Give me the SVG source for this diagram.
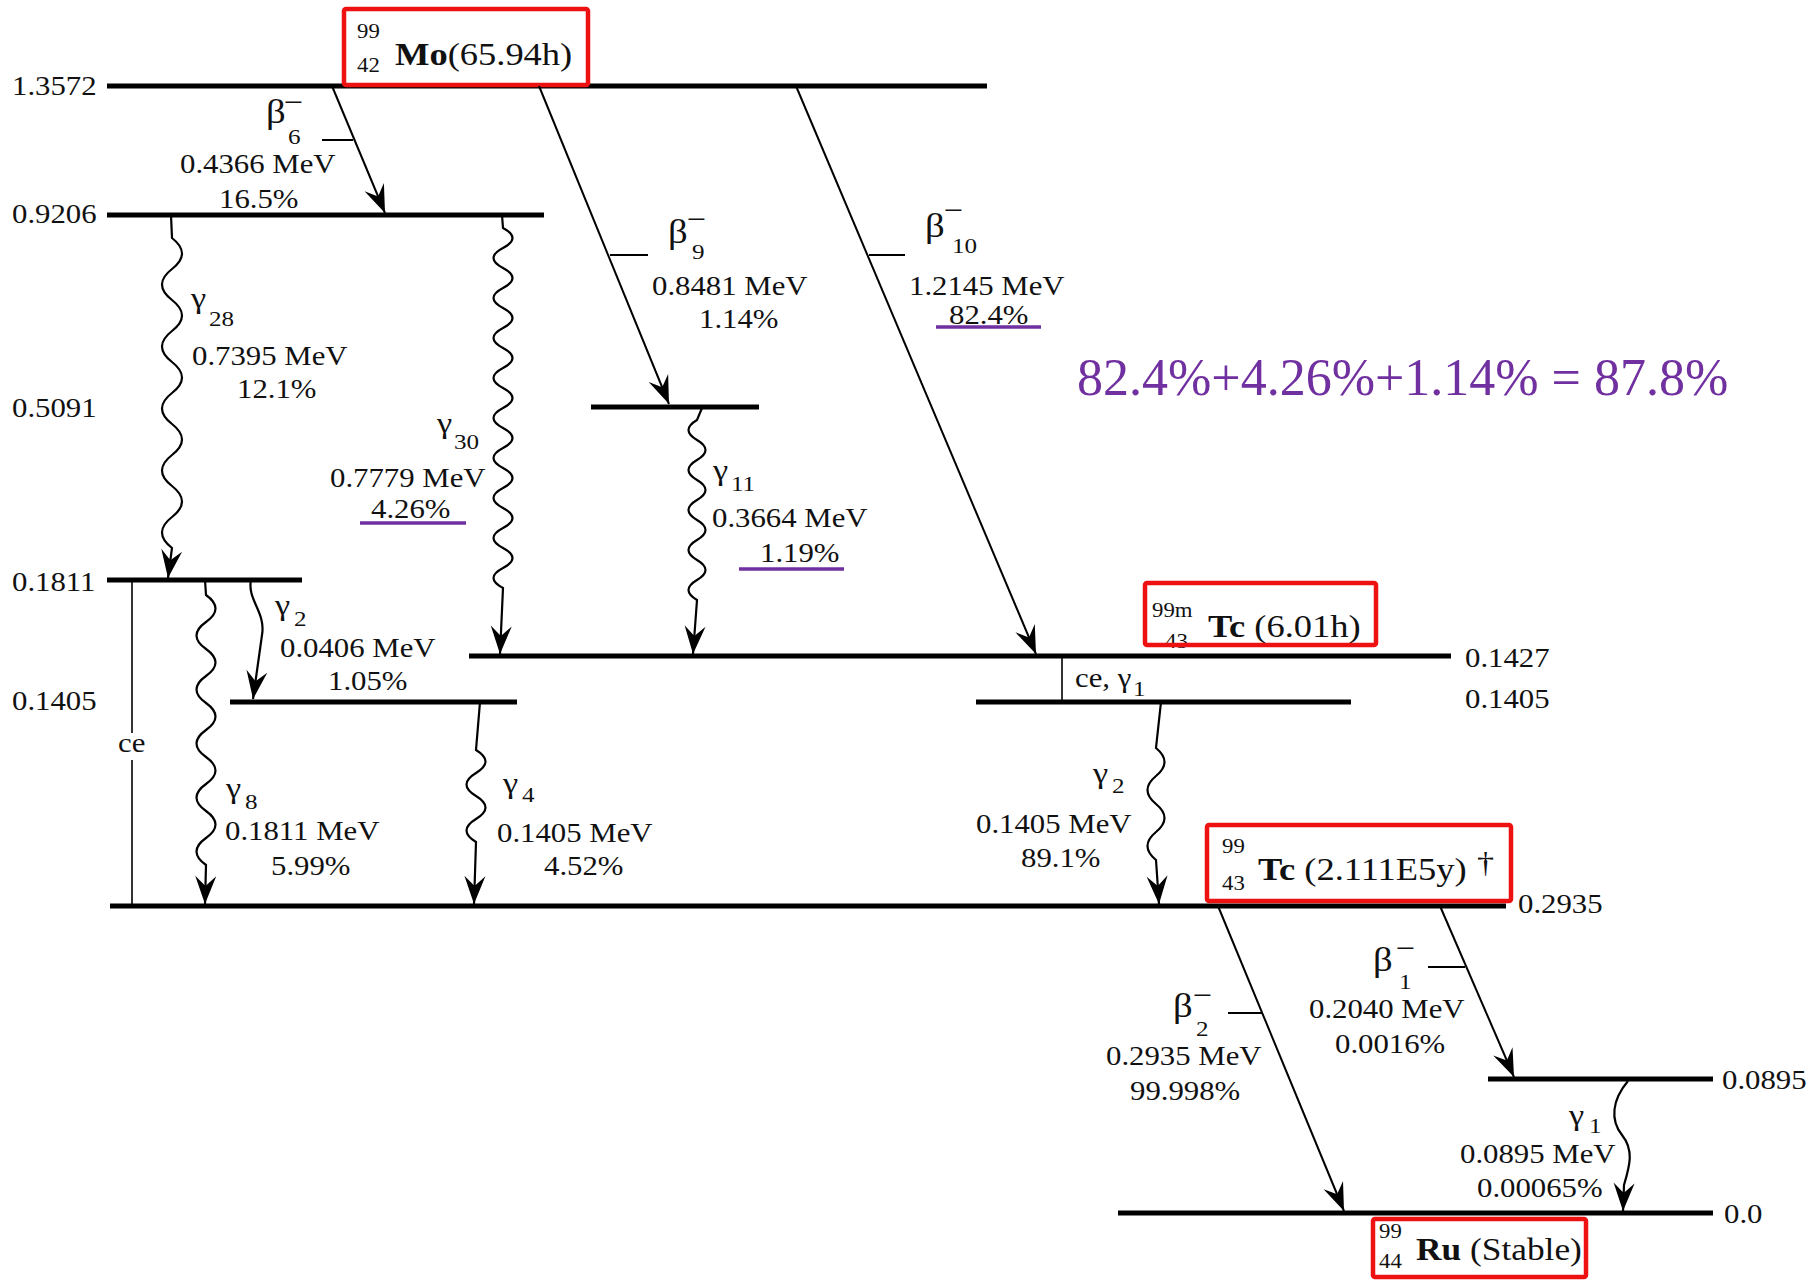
<svg xmlns="http://www.w3.org/2000/svg" width="1815" height="1280" viewBox="0 0 1815 1280">
<style>
.t{font-family:"Liberation Serif","Times New Roman",serif;font-size:27px;fill:#111}
.s{font-size:20px}
.sb{font-size:22px}
.gm{font-size:30px}
.iso{font-size:32px}
.bt{font-size:34px}
.mn{font-size:30px}
.b{font-weight:bold}
.lvl{stroke:#000;stroke-width:5;fill:none}
.ar{stroke:#000;stroke-width:2;fill:none;marker-end:url(#ah)}
.wv{stroke:#000;stroke-width:2.2;fill:none;marker-end:url(#ah)}
.tk{stroke:#000;stroke-width:2}
.thin{stroke:#000;stroke-width:1.6}
.box{fill:none;stroke:#EE1111;stroke-width:4.5}
.ul{stroke:#7030A0;stroke-width:3.5}
.eq{font-family:"Liberation Serif","Times New Roman",serif;font-size:52px;fill:#7030A0}
</style>
<defs>
<marker id="ah" markerUnits="userSpaceOnUse" viewBox="-30 -12 32 24" refX="0" refY="0" markerWidth="32" markerHeight="24" orient="auto">
<path d="M0,0 L-28,-10.5 L-18,0 L-28,10.5 Z" fill="#000"/>
</marker>
</defs>
<rect width="1815" height="1280" fill="#fff"/>

<g id="level-1.3572">
<line class="lvl" x1="107" y1="86" x2="987" y2="86"/>
<text class="t" transform="translate(12 95) scale(1.14 1)">1.3572</text>
</g>
<g id="level-0.9206">
<line class="lvl" x1="107" y1="215" x2="544" y2="215"/>
<text class="t" transform="translate(12 223) scale(1.14 1)">0.9206</text>
</g>
<g id="level-0.5091">
<line class="lvl" x1="591" y1="407" x2="759" y2="407"/>
<text class="t" transform="translate(12 417) scale(1.14 1)">0.5091</text>
</g>
<g id="level-0.1811">
<line class="lvl" x1="107" y1="580" x2="302" y2="580"/>
<text class="t" transform="translate(12 591) scale(1.14 1)">0.1811</text>
</g>
<g id="level-0.1405-left">
<line class="lvl" x1="230" y1="702" x2="517" y2="702"/>
<text class="t" transform="translate(12 710) scale(1.14 1)">0.1405</text>
</g>
<g id="level-0.1427">
<line class="lvl" x1="469" y1="656" x2="1451" y2="656"/>
<text class="t" transform="translate(1465 667) scale(1.14 1)">0.1427</text>
</g>
<g id="level-0.1405-right">
<line class="lvl" x1="976" y1="702" x2="1351" y2="702"/>
<text class="t" transform="translate(1465 708) scale(1.14 1)">0.1405</text>
</g>
<g id="level-0.2935">
<line class="lvl" x1="110" y1="906" x2="1506" y2="906"/>
<text class="t" transform="translate(1518 913) scale(1.14 1)">0.2935</text>
</g>
<g id="level-0.0895">
<line class="lvl" x1="1488" y1="1079" x2="1713" y2="1079"/>
<text class="t" transform="translate(1722 1089) scale(1.14 1)">0.0895</text>
</g>
<g id="level-0.0">
<line class="lvl" x1="1118" y1="1213" x2="1713" y2="1213"/>
<text class="t" transform="translate(1724 1223) scale(1.14 1)">0.0</text>
</g>

<g id="node-Mo99">
<text class="t s" transform="translate(357 38) scale(1.14 1)">99</text>
<text class="t s" transform="translate(357 72) scale(1.14 1)">42</text>
<text class="t iso" transform="translate(395 65) scale(1.14 1)"><tspan class="b">Mo</tspan>(65.94h)</text>
<rect class="box" x="344" y="9" width="244" height="76" rx="2"/>
</g>
<g id="node-Tc99m">
<text class="t s" transform="translate(1152 617) scale(1.14 1)">99m</text>
<text class="t s" transform="translate(1165 648) scale(1.14 1)">43</text>
<text class="t iso" transform="translate(1208 637) scale(1.14 1)"><tspan class="b">Tc</tspan> (6.01h)</text>
<rect class="box" x="1145" y="583" width="231" height="62" rx="2"/>
</g>
<g id="node-Tc99">
<text class="t s" transform="translate(1222 853) scale(1.14 1)">99</text>
<text class="t s" transform="translate(1222 890) scale(1.14 1)">43</text>
<text class="t iso" transform="translate(1258 880) scale(1.14 1)"><tspan class="b">Tc</tspan> (2.111E5y)</text>
<text class="t" style="font-size:30px" transform="translate(1477 872) scale(1.14 1)">†</text>
<rect class="box" x="1207" y="825" width="304" height="76" rx="2"/>
</g>
<g id="node-Ru99">
<text class="t s" transform="translate(1379 1238) scale(1.14 1)">99</text>
<text class="t s" transform="translate(1379 1268) scale(1.14 1)">44</text>
<text class="t" style="font-size:31px" transform="translate(1416 1260) scale(1.14 1)"><tspan class="b">Ru</tspan> (Stable)</text>
<rect class="box" x="1373" y="1219" width="213" height="58" rx="2"/>
</g>

<g id="connectors">
<line class="ar" x1="332" y1="86" x2="385" y2="213"/>
<line class="ar" x1="539" y1="86" x2="669" y2="404"/>
<line class="ar" x1="796" y1="86" x2="1036" y2="654"/>
<line class="ar" x1="1218" y1="906" x2="1344" y2="1211"/>
<line class="ar" x1="1440" y1="906" x2="1514" y2="1077"/>
<line class="tk" x1="322" y1="140" x2="353" y2="140"/>
<line class="tk" x1="610" y1="255" x2="648" y2="255"/>
<line class="tk" x1="869" y1="255" x2="905" y2="255"/>
<line class="tk" x1="1228" y1="1013" x2="1262" y2="1013"/>
<line class="tk" x1="1428" y1="967" x2="1465" y2="967"/>
<path class="wv" d="M171 215 L172 238 q20 15.5 0 31 t0 31 t0 31 t0 31 t0 31 t0 31 t0 31 t0 31 t0 31 t0 31 L168 578"/>
<path class="wv" d="M502 215 L503 228 q19 10 0 20 t0 20 t0 20 t0 20 t0 20 t0 20 t0 20 t0 20 t0 20 t0 20 t0 20 t0 20 t0 20 t0 20 t0 20 t0 20 t0 20 t0 20 L500 654"/>
<path class="wv" d="M702 408 L697 420 q-17 10 0 20 t0 20 t0 20 t0 20 t0 20 t0 20 t0 20 t0 20 t0 20 L693 654"/>
<path class="wv" d="M251 580 C247 600 266 612 262 635 L253 699"/>
<path class="wv" d="M205 580 L206 595 q19 13.5 0 27 t0 27 t0 27 t0 27 t0 27 t0 27 t0 27 t0 27 t0 27 t0 27 L205 904"/>
<path class="wv" d="M480 702 L476 750 q19 11.5 0 23 t0 23 t0 23 t0 23 L474 904"/>
<path class="wv" d="M1161 702 L1156 748 q17 14 0 28 t0 28 t0 28 t0 28 L1159 904"/>
<path class="wv" d="M1628 1081 C1612 1100 1610 1120 1622 1135 C1634 1150 1630 1165 1624 1185 L1623 1211"/>
<line class="thin" x1="132" y1="580" x2="132" y2="733"/>
<line class="thin" x1="132" y1="760" x2="132" y2="906"/>
<line class="thin" x1="1062" y1="656" x2="1062" y2="702"/>
</g>

<g id="transition-labels">
<text class="t bt" transform="translate(266 123) scale(1.14 1)">β</text>
<text class="t mn" transform="translate(284 112) scale(1.14 1)">−</text>
<text class="t sb" transform="translate(288 144) scale(1.14 1)">6</text>
<text class="t" transform="translate(180 173) scale(1.14 1)">0.4366 MeV</text>
<text class="t" transform="translate(219 208) scale(1.14 1)">16.5%</text>

<text class="t bt" transform="translate(668 243) scale(1.14 1)">β</text>
<text class="t mn" transform="translate(687 229) scale(1.14 1)">−</text>
<text class="t sb" transform="translate(692 259) scale(1.14 1)">9</text>
<text class="t" transform="translate(652 295) scale(1.14 1)">0.8481 MeV</text>
<text class="t" transform="translate(699 328) scale(1.14 1)">1.14%</text>

<text class="t bt" transform="translate(925 237) scale(1.14 1)">β</text>
<text class="t mn" transform="translate(944 220) scale(1.14 1)">−</text>
<text class="t sb" transform="translate(952 253) scale(1.14 1)">10</text>
<text class="t" transform="translate(909 295) scale(1.14 1)">1.2145 MeV</text>
<text class="t" transform="translate(949 324) scale(1.14 1)">82.4%</text>
<line class="ul" x1="936" y1="327" x2="1041" y2="327"/>

<text class="t gm" transform="translate(191 308) scale(1.14 1)">γ</text>
<text class="t sb" transform="translate(209 326) scale(1.14 1)">28</text>
<text class="t" transform="translate(192 365) scale(1.14 1)">0.7395 MeV</text>
<text class="t" transform="translate(237 398) scale(1.14 1)">12.1%</text>

<text class="t gm" transform="translate(437 433) scale(1.14 1)">γ</text>
<text class="t sb" transform="translate(454 449) scale(1.14 1)">30</text>
<text class="t" transform="translate(330 487) scale(1.14 1)">0.7779 MeV</text>
<text class="t" transform="translate(371 518) scale(1.14 1)">4.26%</text>
<line class="ul" x1="360" y1="523" x2="466" y2="523"/>

<text class="t gm" transform="translate(713 480) scale(1.14 1)">γ</text>
<text class="t sb" transform="translate(731 491) scale(1.14 1)">11</text>
<text class="t" transform="translate(712 527) scale(1.14 1)">0.3664 MeV</text>
<text class="t" transform="translate(760 562) scale(1.14 1)">1.19%</text>
<line class="ul" x1="739" y1="569" x2="844" y2="569"/>

<text class="t gm" transform="translate(275 615) scale(1.14 1)">γ</text>
<text class="t sb" transform="translate(294 626) scale(1.14 1)">2</text>
<text class="t" transform="translate(280 657) scale(1.14 1)">0.0406 MeV</text>
<text class="t" transform="translate(328 690) scale(1.14 1)">1.05%</text>

<text class="t" transform="translate(118 752) scale(1.14 1)">ce</text>

<text class="t gm" transform="translate(226 798) scale(1.14 1)">γ</text>
<text class="t sb" transform="translate(245 809) scale(1.14 1)">8</text>
<text class="t" transform="translate(225 840) scale(1.14 1)">0.1811 MeV</text>
<text class="t" transform="translate(271 875) scale(1.14 1)">5.99%</text>

<text class="t gm" transform="translate(503 793) scale(1.14 1)">γ</text>
<text class="t sb" transform="translate(522 802) scale(1.14 1)">4</text>
<text class="t" transform="translate(497 842) scale(1.14 1)">0.1405 MeV</text>
<text class="t" transform="translate(544 875) scale(1.14 1)">4.52%</text>

<text class="t" transform="translate(1075 687) scale(1.14 1)">ce, γ</text>
<text class="t sb" transform="translate(1133 696) scale(1.14 1)">1</text>

<text class="t gm" transform="translate(1093 783) scale(1.14 1)">γ</text>
<text class="t sb" transform="translate(1112 793) scale(1.14 1)">2</text>
<text class="t" transform="translate(976 833) scale(1.14 1)">0.1405 MeV</text>
<text class="t" transform="translate(1021 867) scale(1.14 1)">89.1%</text>

<text class="t bt" transform="translate(1173 1017) scale(1.14 1)">β</text>
<text class="t mn" transform="translate(1193 1005) scale(1.14 1)">−</text>
<text class="t sb" transform="translate(1196 1036) scale(1.14 1)">2</text>
<text class="t" transform="translate(1106 1065) scale(1.14 1)">0.2935 MeV</text>
<text class="t" transform="translate(1130 1100) scale(1.14 1)">99.998%</text>

<text class="t bt" transform="translate(1373 971) scale(1.14 1)">β</text>
<text class="t mn" transform="translate(1396 958) scale(1.14 1)">−</text>
<text class="t sb" transform="translate(1399 989) scale(1.14 1)">1</text>
<text class="t" transform="translate(1309 1018) scale(1.14 1)">0.2040 MeV</text>
<text class="t" transform="translate(1335 1053) scale(1.14 1)">0.0016%</text>

<text class="t gm" transform="translate(1569 1125) scale(1.14 1)">γ</text>
<text class="t sb" transform="translate(1589 1133) scale(1.14 1)">1</text>
<text class="t" transform="translate(1460 1163) scale(1.14 1)">0.0895 MeV</text>
<text class="t" transform="translate(1477 1197) scale(1.14 1)">0.00065%</text>
</g>

<g id="sum-note">
<text class="eq" x="1077" y="395">82.4%+4.26%+1.14% = 87.8%</text>
</g>
</svg>
